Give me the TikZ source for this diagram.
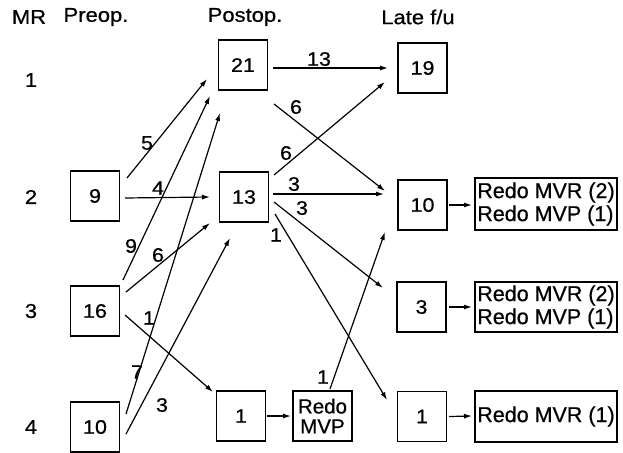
\documentclass[tikz,border=0pt]{standalone}
\usepackage{fontspec}
\setmainfont{Liberation Sans}[FakeStretch=1.1,FakeBold=0.6]
\newfontfamily\redofont{Liberation Sans}[FakeBold=0.6]
\usetikzlibrary{arrows.meta}
\begin{document}
\begin{tikzpicture}[x=1pt,y=-1pt,
  box/.style={draw,line width=1.3pt,inner sep=0pt,minimum width=49pt,minimum height=50pt,font=\fontsize{19.5}{21}\selectfont},
  redobox/.style={draw,line width=1.3pt,inner sep=0pt,minimum width=142pt,minimum height=50pt,align=left,font=\redofont\fontsize{21.5}{23}\selectfont},
  head/.style={inner sep=0pt,font=\fontsize{20}{22}\selectfont},
  lab/.style={inner sep=0pt,font=\fontsize{19.5}{21}\selectfont},
  arr/.style={line width=1.2pt,-{Latex[length=8pt,width=5pt]}}]
\useasboundingbox (0,0) rectangle (623,452);
% headers
\node[head] (hMR) at (29,17) {MR};
\node[head] (hPre) at (96,17) {Preop.};
\node[head] (hPost) at (245,17) {Postop.};
\node[head] (hLate) at (418,17) {Late f/u};
\node[head] (r1) at (31,80) {1};
\node[head] (r2) at (31,197) {2};
\node[head] (r3) at (31,311) {3};
\node[head] (r4) at (31,427) {4};
% boxes
\node[box] (p9) at (95,196) {9};
\node[box] (p16) at (95,311) {16};
\node[box] (p10) at (95,427) {10};
\node[box] (o21) at (243,65) {21};
\node[box] (o13) at (244,197) {13};
\node[box] (o1) at (241,416) {1};
\node[box,minimum width=59pt,align=center,font=\redofont\fontsize{20.5}{20}\selectfont] (mvp) at (322.5,416) {Redo\\MVP};
\node[box] (l19) at (422.5,68) {19};
\node[box] (l10) at (422.5,205) {10};
\node[box] (l3) at (421.5,307) {3};
\node[box] (l1) at (422,416.5) {1};
\node[redobox,minimum height=52pt] (rb1) at (546,204) {Redo MVR (2)\\Redo MVP (1)};
\node[redobox] (rb2) at (546,307) {Redo MVR (2)\\Redo MVP (1)};
\node[redobox,minimum height=51pt] (rb3) at (546,416.5) {Redo MVR (1)};
% arrows
\draw[arr] ([shift={(32,-18)}]p9.center) -- ([shift={(-36,14)}]o21.center);
\draw[arr] ([shift={(30,2)}]p9.center) -- ([shift={(-34,0)}]o13.center);
\draw[arr] ([shift={(28,-31)}]p16.center) -- ([shift={(-33,31)}]o21.center);
\draw[arr] ([shift={(31,-13)}]p10.center) -- ([shift={(-23,48)}]o21.center);
\draw[arr] ([shift={(31,-19)}]p16.center) -- ([shift={(-34,26)}]o13.center);
\draw[arr] ([shift={(31,7)}]p10.center) -- ([shift={(-14,41)}]o13.center);
\draw[arr] ([shift={(30,4)}]p16.center) -- ([shift={(-28,-24)}]o1.center);
\draw[arr] ([shift={(26,0)}]o1.center) -- ([shift={(-31.5,0)}]mvp.center);
\draw[arr] ([shift={(30,3)}]o21.center) -- ([shift={(-34.5,0)}]l19.center);
\draw[arr] ([shift={(31,39)}]o21.center) -- ([shift={(-37.5,-14)}]l10.center);
\draw[arr] ([shift={(30,-22)}]o13.center) -- ([shift={(-37.5,14)}]l19.center);
\draw[arr] ([shift={(29,-3)}]o13.center) -- ([shift={(-38.5,-11)}]l10.center);
\draw[arr] ([shift={(30,5)}]o13.center) -- ([shift={(-38.5,-19)}]l3.center);
\draw[arr] ([shift={(31,17)}]o13.center) -- ([shift={(-35,-16.5)}]l1.center);
\draw[arr] ([shift={(7.5,-27)}]mvp.center) -- ([shift={(-37.5,27)}]l10.center);
\draw[arr] ([shift={(26.5,0)}]l10.center) -- ([shift={(-74,1)}]rb1.center);
\draw[arr] ([shift={(27.5,0)}]l3.center) -- ([shift={(-74,0)}]rb2.center);
\draw[arr] ([shift={(27,0)}]l1.center) -- ([shift={(-74,-0.5)}]rb3.center);
% edge labels
\node[lab] (e5) at (147,143) {5};
\node[lab] (e4) at (158,188) {4};
\node[lab] (e9) at (131,246) {9};
\node[lab] (e6a) at (158,255) {6};
\node[lab] (e13) at (319,59) {13};
\node[lab] (e6b) at (296,107) {6};
\node[lab] (e6c) at (286,153) {6};
\node[lab] (e3a) at (294,184) {3};
\node[lab] (e3b) at (302,208) {3};
\node[lab] (e1a) at (276,235) {1};
\node[lab] (e1b) at (149,318) {1};
\node[lab] (e7) at (137,372) {7};
\node[lab] (e3c) at (162,405) {3};
\node[lab] (e1c) at (323,377) {1};
\end{tikzpicture}
\end{document}
